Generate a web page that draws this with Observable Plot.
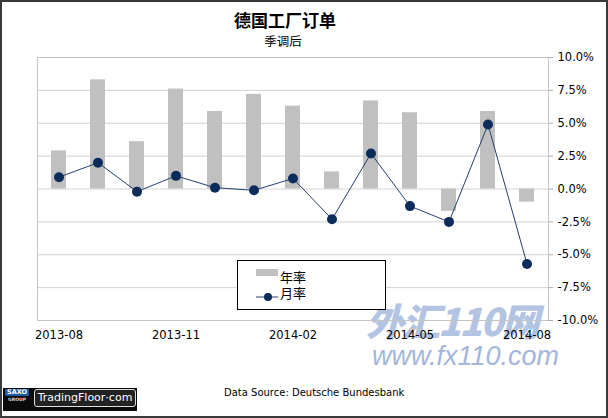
<!DOCTYPE html>
<html><head><meta charset="utf-8">
<script src="https://cdn.jsdelivr.net/npm/d3@7"></script>
<script src="https://cdn.jsdelivr.net/npm/@observablehq/plot@0.6"></script>
<style>
body{margin:0;background:#fff;}
#wrap{position:relative;width:608px;height:418px;overflow:hidden;background:#fff;font-family:"DejaVu Sans",sans-serif;}
#border{position:absolute;left:0;top:0;width:608px;height:418px;box-sizing:border-box;border:2px solid #3a3a3a;pointer-events:none;z-index:10;}
#title{position:absolute;left:0;top:10px;width:570px;text-align:center;font-family:"Noto Sans CJK SC",sans-serif;font-size:17px;font-weight:bold;line-height:20px;color:#000;}
#subtitle{position:absolute;left:0;top:33px;width:566px;text-align:center;font-family:"Noto Sans CJK SC",sans-serif;font-size:12.5px;line-height:15px;color:#000;}
#chart{position:absolute;left:0;top:0;z-index:2;}
#wm{position:absolute;left:0;top:0;z-index:1;}
#wm1{position:absolute;left:366px;top:298px;white-space:nowrap;font-family:"Noto Sans CJK SC",sans-serif;font-size:38px;font-weight:900;font-style:italic;color:#b3c4e3;line-height:44px;letter-spacing:-2px;}
#wm2{position:absolute;left:372px;top:341px;white-space:nowrap;font-family:"Liberation Sans",sans-serif;font-size:27px;font-style:italic;color:#a3b6da;line-height:30px;}
#legend{position:absolute;left:237px;top:260px;width:147px;height:48px;border:1px solid #000;background:#fff;z-index:3;}
.lt{position:absolute;left:42px;white-space:nowrap;font-family:"Noto Sans CJK SC",sans-serif;font-size:13px;line-height:14px;color:#000;}
#src{position:absolute;left:224px;top:386px;white-space:nowrap;font-family:"DejaVu Sans",sans-serif;font-size:10px;line-height:14px;color:#000;z-index:3;}
#logo{position:absolute;left:3px;top:388px;width:134px;height:23px;background:#0a0a0a;z-index:3;}
#saxo{position:absolute;left:2px;top:1px;width:24px;height:7px;background:#1f5aa6;color:#fff;font-size:6.5px;font-weight:bold;line-height:7px;text-align:center;}
#group{position:absolute;left:2px;top:9px;width:24px;height:5px;color:#ddd;font-size:4.5px;font-weight:bold;line-height:5px;text-align:center;}
#tf{position:absolute;left:31px;top:1px;width:100px;height:16px;border:1px solid #ddd;border-radius:3px;background:#222;color:#fff;font-size:11px;line-height:16px;text-align:center;white-space:nowrap;}
</style></head><body>
<div id="wrap">
  <div id="wm"><div id="wm1">外汇110网</div><div id="wm2">www.fx110.com</div></div>
  <div id="title">德国工厂订单</div>
  <div id="subtitle">季调后</div>
  <div id="chart"></div>
  <div id="legend">
    <svg width="147" height="48" style="position:absolute;left:0;top:0">
      <rect x="18" y="8" width="22" height="7" fill="#c0c0c0"></rect>
      <line x1="18" y1="36" x2="40" y2="36" stroke="#24406b" stroke-width="1"></line>
      <circle cx="30" cy="36" r="4" fill="#0c2d5c"></circle>
    </svg>
    <div class="lt" style="top:9px">年率</div>
    <div class="lt" style="top:25px">月率</div>
  </div>
  <div id="src">Data Source: Deutsche Bundesbank</div>
  <div id="logo">
    <div id="saxo">SAXO</div>
    <div id="group">GROUP</div>
    <div id="tf">TradingFloor·com</div>
  </div>
  <div id="border"></div>
</div>
<script>
const months = ["2013-08","2013-09","2013-10","2013-11","2013-12","2014-01","2014-02","2014-03","2014-04","2014-05","2014-06","2014-07","2014-08"];
const yoyRate = [2.9, 8.3, 3.6, 7.6, 5.9, 7.2, 6.3, 1.3, 6.7, 5.8, -1.7, 5.9, -1.0];
const momRate = [0.9, 2.0, -0.2, 1.0, 0.1, -0.1, 0.8, -2.3, 2.7, -1.3, -2.5, 4.9, -5.7];
const xTickLabels = ["2013-08","2013-11","2014-02","2014-05","2014-08"];
const yTicks = [-10, -7.5, -5, -2.5, 0, 2.5, 5, 7.5, 10];

const data = months.map((m, i) => ({month: m, yoy: yoyRate[i], mom: momRate[i]}));

const chart = Plot.plot({
  width: 608,
  height: 350,
  marginTop: 57,
  marginBottom: 30,
  marginLeft: 37,
  marginRight: 60,
  style: {fontFamily: "DejaVu Sans", fontSize: "11.5px", color: "#000", background: "transparent"},
  x: {type: "band", domain: months, paddingInner: 0.62, paddingOuter: 0.34, axis: null},
  y: {domain: [-10, 10], axis: null},
  marks: [
    Plot.gridY(yTicks, {stroke: "#d2d2d2", strokeOpacity: 1}),
    Plot.frame({stroke: "#c4c4c4"}),
    Plot.barY(data, {x: "month", y: "yoy", fill: "#c0c0c0"}),
    Plot.line(data, {x: "month", y: "mom", stroke: "#24406b", strokeWidth: 1}),
    Plot.dot(data, {x: "month", y: "mom", r: 5, fill: "#0c2d5c", stroke: "none"}),
    Plot.axisY({anchor: "right", ticks: yTicks, tickFormat: d => d.toFixed(1) + "%", tickSize: 4, tickPadding: 5, stroke: "#aaaaaa", fill: "#000", textAnchor: "start", label: null}),
    Plot.axisX({ticks: xTickLabels, tickSize: 0, tickPadding: 10, fill: "#000", label: null})
  ]
});
document.getElementById("chart").appendChild(chart);
</script>
</body></html>
